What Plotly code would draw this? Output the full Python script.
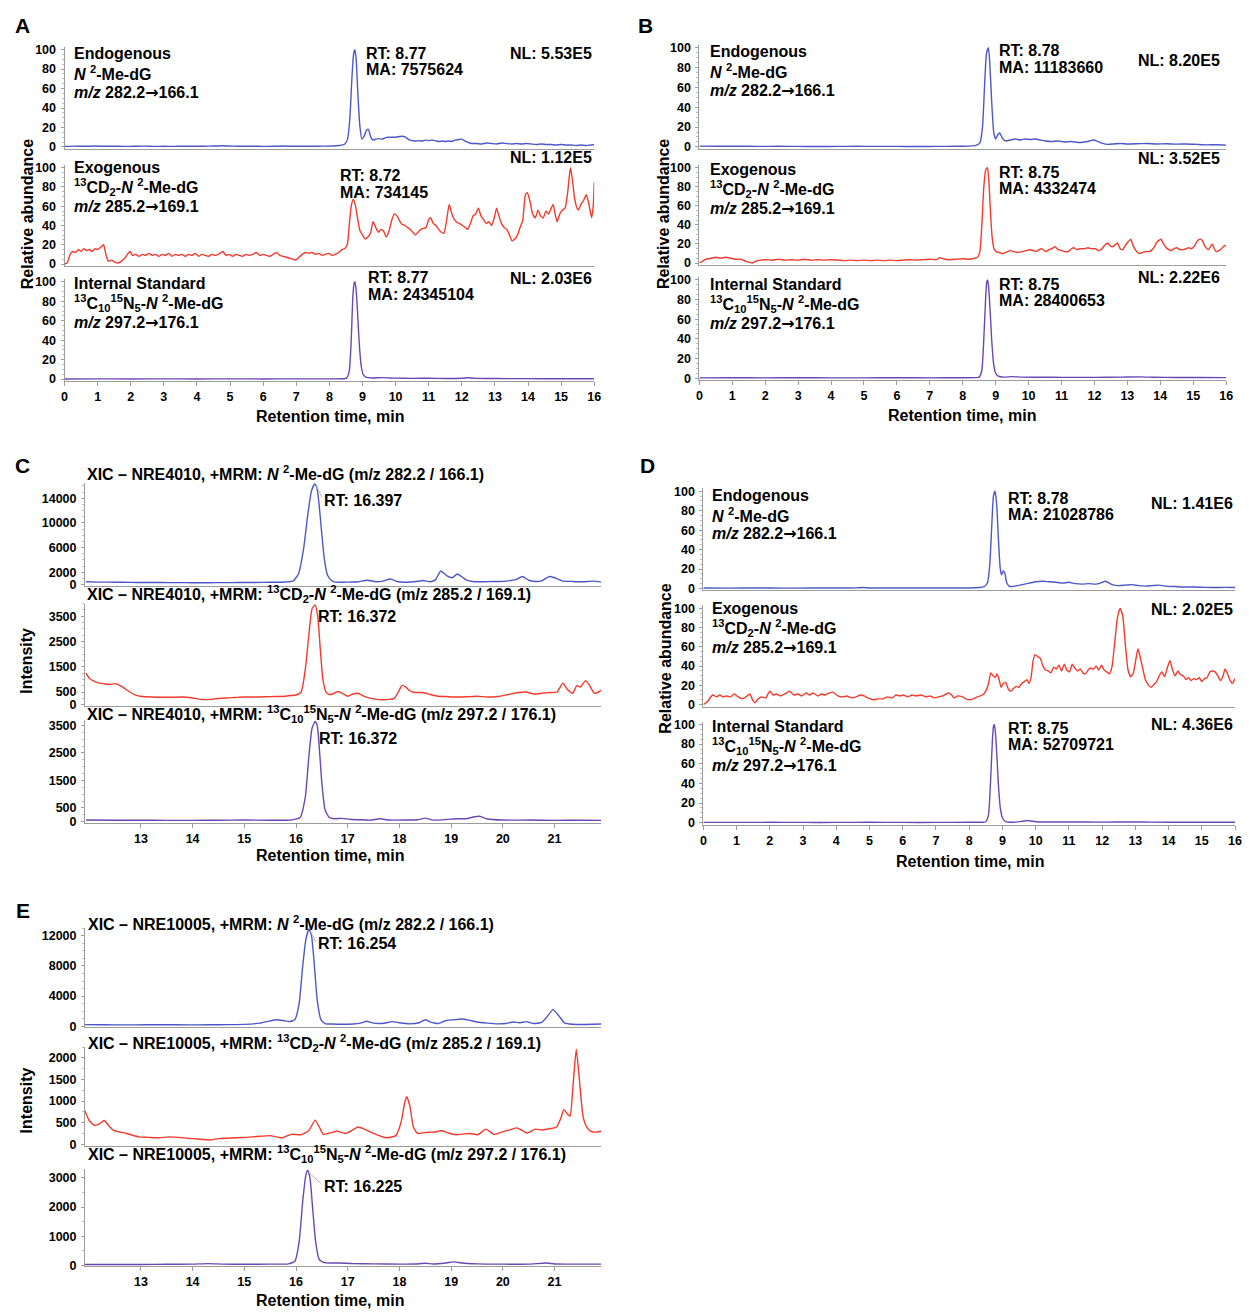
import plotly.graph_objects as go

W, H = 1249, 1313
FONT = "Liberation Sans, Arial, Helvetica, sans-serif"
BLUE = "#4d58c6"
RED = "#f43a2c"
PURPLE = "#6a48b2"
AXIS = "#9c9c9c"
ARROW = "<span style='font-family:DejaVu Sans'>→</span>"

# ---------------- Panel A (relative abundance, % of NL) ----------------
A_endo = [(0, 0.5), (0.3, 0.8), (0.6, 0.6), (0.9, 0.9), (1.2, 0.6), (1.5, 0.7), (1.8, 0.5), (2.1, 0.6), (2.4, 0.8),
          (2.7, 0.5), (3.0, 0.6), (3.3, 0.5), (3.6, 0.7), (3.9, 0.6), (4.2, 0.7), (4.5, 0.9), (4.8, 1.2), (5.1, 0.8),
          (5.4, 0.6), (5.7, 0.7), (6.0, 0.5), (6.3, 0.6), (6.6, 0.9), (6.9, 0.6), (7.2, 0.7), (7.5, 0.6), (7.8, 0.8),
          (8.1, 1.0), (8.3, 1.5), (8.45, 2.5), (8.55, 8), (8.62, 30), (8.68, 70), (8.73, 95), (8.77, 100), (8.81, 90),
          (8.86, 55), (8.92, 22), (8.98, 8), (9.05, 11), (9.12, 17), (9.18, 18), (9.25, 10), (9.32, 7), (9.4, 8),
          (9.5, 8.5), (9.6, 8), (9.7, 9.5), (9.8, 10), (9.9, 10), (10.0, 10), (10.1, 10.5), (10.2, 11), (10.3, 10),
          (10.4, 7.5), (10.5, 6.5), (10.6, 6), (10.7, 6.5), (10.8, 6), (10.9, 7), (11.0, 6.5), (11.1, 7), (11.2, 6.5),
          (11.3, 5.5), (11.4, 6), (11.5, 5.5), (11.6, 6), (11.7, 5.5), (11.8, 7), (11.9, 7.5), (12.0, 8), (12.1, 6),
          (12.2, 4.5), (12.3, 3.5), (12.45, 3.5), (12.6, 3), (12.75, 4), (12.9, 3.5), (13.05, 3), (13.2, 4),
          (13.35, 3.5), (13.5, 3), (13.65, 3.5), (13.8, 3), (13.95, 3.5), (14.1, 3), (14.25, 2.5), (14.4, 3),
          (14.55, 2.5), (14.7, 2.5), (14.85, 2), (15.0, 2.5), (15.15, 2), (15.3, 2), (15.45, 1.5), (15.6, 2),
          (15.75, 1.5), (15.9, 2), (16.0, 2.2)]

A_exo = [(0.00, 0), (0.08, 1), (0.17, 10), (0.25, 13), (0.33, 12), (0.42, 15), (0.50, 13), (0.58, 16), (0.67, 14),
         (0.75, 15), (0.83, 13), (0.92, 16), (1.00, 15), (1.08, 17), (1.18, 20), (1.25, 10), (1.32, 3), (1.42, 4),
         (1.52, 2), (1.62, 1), (1.72, 3), (1.82, 6), (1.92, 11), (1.98, 13), (2.05, 9), (2.15, 10), (2.25, 8),
         (2.35, 10), (2.45, 9), (2.55, 11), (2.65, 9), (2.75, 10), (2.85, 8), (2.95, 10), (3.05, 9), (3.15, 11),
         (3.25, 8), (3.35, 10), (3.45, 9), (3.55, 10), (3.65, 8), (3.75, 10), (3.85, 9), (3.95, 11), (4.05, 8),
         (4.15, 10), (4.25, 9), (4.35, 8), (4.45, 10), (4.55, 9), (4.65, 10), (4.78, 13), (4.88, 9), (4.98, 10),
         (5.08, 8), (5.18, 10), (5.28, 9), (5.38, 8), (5.48, 10), (5.58, 9), (5.68, 10), (5.80, 12), (5.90, 9),
         (6.00, 10), (6.10, 9), (6.20, 8), (6.30, 10), (6.40, 12), (6.50, 9), (6.60, 8), (6.70, 7), (6.80, 6),
         (6.90, 5), (6.98, 4), (7.08, 7), (7.18, 10), (7.28, 12), (7.38, 11), (7.48, 12), (7.58, 10), (7.68, 11),
         (7.78, 9), (7.88, 10), (7.98, 11), (8.08, 9), (8.18, 10), (8.28, 12), (8.38, 15), (8.46, 16), (8.54, 20),
         (8.60, 40), (8.66, 60), (8.72, 67), (8.78, 62), (8.85, 48), (8.92, 35), (9.00, 30), (9.08, 26), (9.16, 28),
         (9.24, 32), (9.32, 44), (9.40, 38), (9.48, 33), (9.56, 36), (9.64, 34), (9.72, 28), (9.80, 34), (9.88, 45),
         (9.96, 52), (10.04, 50), (10.12, 45), (10.20, 41), (10.28, 40), (10.36, 38), (10.44, 36), (10.52, 33),
         (10.60, 30), (10.68, 33), (10.76, 36), (10.84, 37), (10.92, 38), (11.00, 46), (11.06, 48), (11.14, 42),
         (11.22, 40), (11.30, 36), (11.38, 33), (11.46, 32), (11.54, 45), (11.62, 62), (11.70, 52), (11.78, 46),
         (11.86, 43), (11.94, 42), (12.02, 40), (12.10, 38), (12.18, 36), (12.26, 42), (12.34, 50), (12.42, 52),
         (12.50, 58), (12.58, 50), (12.66, 46), (12.74, 42), (12.82, 44), (12.90, 40), (12.98, 48), (13.05, 58),
         (13.12, 50), (13.20, 42), (13.28, 38), (13.36, 36), (13.44, 30), (13.52, 24), (13.60, 26), (13.68, 30),
         (13.76, 38), (13.84, 45), (13.92, 72), (13.98, 74), (14.06, 65), (14.14, 52), (14.22, 48), (14.30, 56),
         (14.38, 50), (14.46, 48), (14.54, 55), (14.62, 52), (14.70, 58), (14.76, 62), (14.82, 52), (14.88, 44),
         (14.96, 52), (15.04, 56), (15.12, 58), (15.20, 75), (15.28, 100), (15.34, 88), (15.40, 70), (15.46, 60),
         (15.52, 56), (15.60, 62), (15.68, 66), (15.76, 72), (15.84, 62), (15.92, 48), (15.97, 60), (16.00, 85)]

A_is = [(0, 0.2), (1, 0.3), (2, 0.2), (3, 0.3), (4, 0.2), (5, 0.3), (6, 0.2), (7, 0.3), (8, 0.3), (8.4, 0.4),
        (8.52, 1), (8.6, 8), (8.66, 40), (8.71, 85), (8.75, 99), (8.77, 100), (8.8, 95), (8.85, 70), (8.9, 38),
        (8.96, 14), (9.02, 5), (9.1, 2), (9.3, 1.2), (9.6, 1.5), (10, 1), (10.5, 0.8), (11, 0.9), (11.5, 0.7),
        (12, 0.9), (12.2, 1.4), (12.4, 0.8), (13, 0.6), (14, 0.5), (15, 0.4), (16, 0.4)]

# ---------------- Panel B ----------------
B_endo = [(0, 0.8), (0.6, 0.6), (1.2, 0.7), (1.8, 0.5), (2.4, 0.6), (3.0, 0.5), (3.6, 0.4), (4.2, 0.5), (4.8, 0.6),
          (5.4, 0.5), (6.0, 0.5), (6.6, 0.4), (7.2, 0.5), (7.8, 0.6), (8.2, 0.8), (8.4, 1.5), (8.52, 4), (8.6, 20),
          (8.66, 60), (8.72, 94), (8.78, 100), (8.82, 85), (8.88, 45), (8.94, 15), (9.0, 8), (9.06, 12), (9.12, 14),
          (9.2, 9), (9.3, 6), (9.45, 7), (9.6, 8), (9.75, 7), (9.9, 8), (10.05, 7.5), (10.2, 8), (10.35, 7),
          (10.5, 6), (10.7, 5.5), (10.9, 6), (11.1, 5), (11.3, 5.5), (11.5, 4.5), (11.7, 5), (11.85, 6), (11.97, 7),
          (12.1, 5.5), (12.25, 3.5), (12.4, 2.5), (12.6, 3), (12.8, 3.5), (13.0, 3), (13.3, 3.2), (13.6, 3.5),
          (13.9, 3), (14.2, 3.2), (14.5, 2.8), (14.8, 3), (15.1, 2.5), (15.4, 2), (15.7, 2.2), (16.0, 1.8)]

B_exo = [(0, 0), (0.1, 2), (0.2, 4), (0.35, 5), (0.5, 6), (0.65, 5), (0.8, 6), (0.95, 5), (1.1, 4), (1.25, 4),
         (1.4, 2), (1.5, 1), (1.6, 0), (1.72, 2), (1.85, 3), (2.0, 3.5), (2.2, 3), (2.4, 4), (2.6, 3), (2.8, 3.5),
         (3.0, 3), (3.2, 4), (3.4, 3), (3.6, 3.5), (3.8, 3), (4.0, 3.5), (4.2, 3), (4.4, 2.5), (4.6, 3), (4.8, 2.5),
         (5.0, 3), (5.2, 2.5), (5.4, 3), (5.6, 2.5), (5.8, 3), (6.0, 2.5), (6.2, 3), (6.4, 3.5), (6.6, 3),
         (6.8, 3.5), (7.0, 4), (7.2, 3.5), (7.3, 5.5), (7.45, 4), (7.6, 3.5), (7.8, 4), (8.0, 4.5), (8.2, 4),
         (8.35, 5), (8.45, 6), (8.52, 12), (8.58, 40), (8.64, 80), (8.7, 98), (8.75, 100), (8.79, 88), (8.84, 55),
         (8.89, 28), (8.95, 15), (9.02, 12), (9.1, 11), (9.2, 10), (9.3, 11), (9.44, 13), (9.56, 12), (9.68, 11),
         (9.8, 12), (9.92, 13), (10.04, 14), (10.14, 13), (10.22, 12), (10.32, 14), (10.4, 15), (10.52, 12),
         (10.62, 14), (10.7, 15), (10.8, 17), (10.9, 14), (11.0, 13), (11.1, 12), (11.2, 12), (11.3, 15),
         (11.37, 16), (11.47, 14), (11.55, 15), (11.68, 15), (11.8, 16), (11.92, 15), (12.03, 15), (12.12, 13),
         (12.2, 14), (12.3, 18), (12.4, 21), (12.48, 18), (12.54, 17), (12.62, 19), (12.7, 21), (12.78, 15),
         (12.86, 14), (12.93, 18), (13.02, 22), (13.1, 25), (13.18, 18), (13.26, 13), (13.36, 10), (13.46, 11),
         (13.54, 12), (13.64, 12), (13.72, 13), (13.82, 17), (13.9, 22), (14.02, 25), (14.1, 20), (14.18, 16),
         (14.26, 14), (14.32, 13), (14.42, 15), (14.5, 16), (14.6, 14), (14.68, 14), (14.78, 15), (14.86, 16),
         (14.95, 15), (15.04, 18), (15.12, 23), (15.19, 25), (15.27, 24), (15.35, 18), (15.46, 14), (15.52, 17),
         (15.58, 20), (15.64, 15), (15.7, 12), (15.78, 13), (15.86, 15), (15.94, 18), (16.0, 18)]

B_is = [(0, 0.3), (1, 0.4), (2, 0.3), (3, 0.4), (4, 0.3), (5, 0.3), (6, 0.4), (7, 0.3), (8, 0.4), (8.4, 0.5),
        (8.5, 1), (8.58, 8), (8.64, 40), (8.7, 85), (8.73, 98), (8.75, 100), (8.78, 95), (8.83, 70), (8.88, 38),
        (8.94, 14), (9.0, 5), (9.08, 2), (9.25, 1), (9.5, 1.5), (9.8, 1), (10.5, 0.9), (11, 0.8), (12, 0.8),
        (12.8, 1), (13.4, 1.3), (13.8, 0.9), (14.5, 0.7), (15.2, 0.6), (16, 0.5)]

# ---------------- Panel D ----------------
D_endo = [(0, 0.5), (0.8, 0.4), (1.6, 0.5), (2.4, 0.4), (3.2, 0.5), (4.0, 0.5), (4.6, 0.7), (4.8, 1), (5.0, 0.6),
          (5.6, 0.5), (6.4, 0.5), (7.2, 0.5), (8.0, 0.6), (8.3, 1), (8.45, 2), (8.55, 6), (8.62, 25), (8.68, 65),
          (8.73, 95), (8.78, 100), (8.83, 85), (8.88, 50), (8.93, 22), (8.97, 14), (9.02, 18), (9.07, 16),
          (9.13, 6), (9.2, 2.5), (9.3, 2), (9.45, 3), (9.6, 4), (9.8, 5.5), (10.0, 7), (10.2, 7.5), (10.4, 7),
          (10.6, 6.5), (10.8, 5.5), (11.0, 6.5), (11.2, 5), (11.4, 4.5), (11.6, 5), (11.8, 4.5), (11.95, 5.5),
          (12.1, 7.5), (12.3, 4), (12.5, 3), (12.7, 3.5), (12.9, 4), (13.1, 3), (13.3, 2.5), (13.5, 3), (13.7, 3.5),
          (13.9, 2.5), (14.2, 2), (14.5, 1.5), (14.8, 1.5), (15.1, 1.2), (15.4, 1), (15.7, 1.2), (16.0, 1)]

D_exo = [(0.00, 0), (0.12, 3), (0.28, 10), (0.40, 8), (0.50, 10), (0.58, 8), (0.70, 9), (0.82, 8), (0.93, 11),
         (1.05, 8), (1.17, 6), (1.28, 8), (1.40, 11), (1.48, 5), (1.55, 2), (1.65, 6), (1.76, 8), (1.88, 7),
         (2.00, 14), (2.10, 10), (2.20, 11), (2.32, 9), (2.45, 11), (2.60, 14), (2.72, 10), (2.85, 11), (2.95, 9),
         (3.10, 12), (3.20, 10), (3.30, 12), (3.45, 9), (3.55, 11), (3.65, 10), (3.78, 12), (3.90, 13), (4.05, 9),
         (4.20, 8), (4.32, 9), (4.45, 7), (4.60, 8), (4.72, 10), (4.84, 9), (4.95, 7), (5.10, 5), (5.25, 6),
         (5.40, 6), (5.55, 8), (5.68, 7), (5.80, 10), (5.92, 9), (6.02, 10), (6.15, 8), (6.28, 10), (6.40, 9),
         (6.55, 10), (6.70, 8), (6.82, 9), (6.95, 7), (7.08, 8), (7.20, 9), (7.30, 11), (7.38, 12), (7.47, 10),
         (7.55, 7), (7.65, 9), (7.80, 8), (7.90, 6), (8.00, 5), (8.12, 6), (8.25, 8), (8.40, 10), (8.50, 14),
         (8.58, 22), (8.65, 33), (8.72, 30), (8.78, 28), (8.84, 32), (8.90, 26), (8.96, 18), (9.02, 22), (9.10, 23),
         (9.18, 16), (9.26, 14), (9.34, 17), (9.42, 19), (9.50, 18), (9.58, 22), (9.66, 24), (9.74, 26), (9.80, 22),
         (9.86, 28), (9.92, 45), (9.98, 52), (10.06, 50), (10.14, 48), (10.22, 40), (10.30, 36), (10.38, 35),
         (10.46, 33), (10.54, 39), (10.62, 37), (10.70, 41), (10.78, 35), (10.86, 42), (10.94, 36), (11.02, 34),
         (11.10, 42), (11.18, 38), (11.26, 35), (11.34, 37), (11.42, 33), (11.50, 32), (11.58, 36), (11.66, 38),
         (11.74, 37), (11.82, 40), (11.90, 36), (11.98, 41), (12.06, 36), (12.14, 34), (12.22, 32), (12.30, 40),
         (12.38, 65), (12.46, 90), (12.54, 100), (12.62, 92), (12.70, 62), (12.78, 36), (12.86, 29), (12.94, 33),
         (13.02, 48), (13.08, 58), (13.14, 50), (13.22, 38), (13.30, 26), (13.40, 20), (13.48, 18), (13.56, 21),
         (13.64, 24), (13.72, 30), (13.80, 34), (13.88, 29), (13.96, 38), (14.04, 46), (14.12, 36), (14.20, 30),
         (14.28, 35), (14.36, 31), (14.44, 30), (14.52, 26), (14.60, 28), (14.68, 25), (14.76, 27), (14.84, 26),
         (14.92, 28), (15.00, 24), (15.08, 27), (15.16, 28), (15.24, 34), (15.32, 35), (15.40, 34), (15.48, 30),
         (15.56, 25), (15.64, 30), (15.70, 37), (15.76, 33), (15.84, 26), (15.92, 22), (16.00, 27)]

D_is = [(0, 0.3), (1, 0.3), (2, 0.4), (3, 0.3), (4, 0.3), (5, 0.4), (6, 0.3), (7, 0.3), (8, 0.4), (8.4, 0.5),
        (8.5, 1), (8.58, 8), (8.64, 40), (8.7, 85), (8.73, 98), (8.75, 100), (8.78, 95), (8.83, 70), (8.88, 38),
        (8.94, 14), (9.0, 5), (9.08, 1.5), (9.2, 0.5), (9.4, 0.6), (9.6, 1.5), (9.75, 2.2), (9.9, 1.5), (10.1, 0.8),
        (10.5, 0.7), (11, 0.8), (12, 0.6), (12.9, 0.9), (13.5, 0.6), (14.5, 0.5), (15.5, 0.5), (16, 0.4)]

# ---------------- Panel C (NRE4010, intensity in cps) ----------------
C_endo = [(11.94, 450), (12.2, 400), (12.5, 380), (12.8, 350), (13.1, 330), (13.4, 320), (13.7, 310), (14.0, 300),
          (14.3, 300), (14.6, 310), (14.9, 320), (15.2, 340), (15.5, 360), (15.8, 420), (15.95, 600), (16.05, 1800),
          (16.15, 6000), (16.23, 11500), (16.3, 15200), (16.36, 16300), (16.4, 15800), (16.44, 13500),
          (16.49, 9000), (16.55, 4000), (16.61, 1500), (16.68, 700), (16.76, 400), (16.9, 380), (17.05, 400),
          (17.2, 450), (17.38, 700), (17.55, 450), (17.7, 600), (17.82, 900), (17.95, 500), (18.1, 380), (18.3, 450),
          (18.46, 650), (18.6, 450), (18.7, 800), (18.8, 2200), (18.92, 1400), (19.02, 1100), (19.12, 1700),
          (19.2, 1300), (19.3, 700), (19.42, 500), (19.6, 450), (19.8, 500), (19.95, 500), (20.1, 600), (20.25, 800),
          (20.38, 1300), (20.5, 700), (20.62, 500), (20.75, 600), (20.9, 1300), (21.0, 1100), (21.15, 600),
          (21.35, 500), (21.55, 450), (21.75, 550), (21.91, 400)]

C_exo = [(11.94, 1250), (12.0, 1050), (12.1, 920), (12.2, 850), (12.3, 820), (12.4, 800), (12.5, 830), (12.6, 750),
         (12.7, 620), (12.8, 480), (12.9, 380), (13.0, 330), (13.2, 300), (13.4, 290), (13.6, 290), (13.8, 300),
         (14.0, 260), (14.2, 200), (14.4, 220), (14.6, 260), (14.8, 280), (15.0, 300), (15.2, 300), (15.4, 310),
         (15.6, 320), (15.8, 330), (15.9, 360), (16.0, 380), (16.1, 500), (16.18, 1400), (16.25, 2800),
         (16.31, 3800), (16.37, 3950), (16.42, 3500), (16.47, 2200), (16.52, 1000), (16.58, 500), (16.64, 400),
         (16.72, 430), (16.8, 520), (16.9, 450), (17.0, 330), (17.1, 420), (17.2, 450), (17.3, 350), (17.45, 250),
         (17.6, 200), (17.75, 200), (17.9, 250), (17.98, 500), (18.05, 760), (18.12, 700), (18.2, 550), (18.3, 480),
         (18.45, 480), (18.6, 400), (18.75, 330), (18.9, 320), (19.1, 300), (19.3, 310), (19.5, 330), (19.7, 300),
         (19.9, 320), (20.1, 400), (20.3, 480), (20.45, 500), (20.6, 420), (20.75, 450), (20.9, 480), (21.05, 500),
         (21.16, 850), (21.25, 600), (21.35, 450), (21.43, 750), (21.5, 700), (21.6, 950), (21.68, 750),
         (21.77, 450), (21.85, 500), (21.91, 580)]

C_is = [(11.94, 60), (12.5, 55), (13.0, 55), (13.5, 50), (14.0, 50), (14.5, 55), (15.0, 60), (15.5, 55), (15.9, 60),
        (16.08, 150), (16.18, 900), (16.25, 2400), (16.31, 3400), (16.37, 3650), (16.41, 3500), (16.45, 2700),
        (16.5, 1400), (16.56, 450), (16.64, 160), (16.74, 110), (16.89, 120), (17.04, 90), (17.24, 70), (17.45, 60),
        (17.62, 110), (17.8, 60), (18.1, 60), (18.35, 70), (18.5, 130), (18.65, 60), (18.9, 80), (19.1, 110),
        (19.3, 110), (19.45, 180), (19.55, 200), (19.7, 100), (20.0, 60), (20.5, 60), (21.0, 50), (21.5, 55),
        (21.91, 50)]

# ---------------- Panel E (NRE10005, intensity in cps) ----------------
E_endo = [(11.9, 200), (12.3, 180), (12.7, 170), (13.1, 180), (13.5, 190), (13.9, 170), (14.3, 180), (14.7, 200),
          (15.0, 230), (15.3, 400), (15.5, 700), (15.62, 850), (15.75, 750), (15.88, 600), (15.98, 900),
          (16.06, 3000), (16.13, 8000), (16.19, 11500), (16.25, 12900), (16.3, 12000), (16.35, 8500), (16.41, 3500),
          (16.48, 900), (16.56, 350), (16.7, 280), (16.9, 250), (17.1, 280), (17.25, 400), (17.37, 650), (17.5, 400),
          (17.7, 380), (17.86, 600), (18.0, 450), (18.2, 300), (18.38, 450), (18.5, 850), (18.62, 500), (18.75, 350),
          (18.9, 750), (19.05, 850), (19.2, 950), (19.35, 800), (19.5, 550), (19.7, 400), (19.9, 300), (20.05, 350),
          (20.2, 550), (20.32, 450), (20.45, 600), (20.6, 350), (20.75, 500), (20.85, 1200), (20.97, 2200),
          (21.08, 1400), (21.2, 400), (21.35, 250), (21.55, 220), (21.75, 250), (21.9, 280)]

E_exo = [(11.9, 820), (12.0, 550), (12.1, 440), (12.2, 470), (12.29, 550), (12.4, 400), (12.47, 320), (12.6, 280),
         (12.73, 250), (12.96, 170), (13.15, 160), (13.35, 150), (13.55, 170), (13.73, 160), (13.9, 140),
         (14.1, 120), (14.35, 100), (14.5, 130), (14.66, 140), (14.85, 150), (15.04, 160), (15.25, 180), (15.5, 200),
         (15.73, 150), (15.91, 230), (16.1, 220), (16.25, 320), (16.37, 560), (16.45, 400), (16.53, 230),
         (16.65, 260), (16.8, 300), (16.95, 250), (17.08, 320), (17.2, 400), (17.32, 350), (17.5, 250), (17.65, 180),
         (17.77, 150), (17.93, 200), (18.03, 500), (18.1, 950), (18.14, 1100), (18.2, 900), (18.27, 400),
         (18.35, 250), (18.48, 270), (18.6, 280), (18.72, 290), (18.82, 320), (18.95, 260), (19.1, 220),
         (19.25, 240), (19.37, 250), (19.52, 220), (19.67, 350), (19.83, 230), (20.02, 300), (20.15, 340),
         (20.27, 380), (20.36, 330), (20.47, 260), (20.63, 350), (20.75, 330), (20.86, 350), (20.96, 370),
         (21.04, 400), (21.12, 600), (21.18, 800), (21.25, 700), (21.3, 650), (21.36, 1400), (21.42, 2200),
         (21.48, 1500), (21.55, 650), (21.62, 400), (21.7, 300), (21.8, 280), (21.9, 300)]

E_is = [(11.9, 30), (12.5, 30), (13.0, 30), (13.5, 35), (14.0, 40), (14.3, 60), (14.6, 40), (15.0, 35), (15.5, 40),
        (15.85, 50), (15.98, 150), (16.06, 800), (16.13, 2200), (16.19, 3100), (16.225, 3270), (16.27, 3000),
        (16.32, 2000), (16.38, 800), (16.45, 200), (16.55, 90), (16.7, 80), (16.85, 80), (17.1, 60), (17.5, 50),
        (18.0, 40), (18.3, 45), (18.5, 70), (18.65, 45), (18.9, 80), (19.05, 120), (19.2, 80), (19.5, 50),
        (20.0, 40), (20.5, 40), (20.85, 80), (21.0, 45), (21.5, 40), (21.9, 40)]

# tick values
REL_TICKS = [0, 20, 40, 60, 80, 100]
MIN_TICKS_16 = list(range(0, 17))
MIN_TICKS_XIC = list(range(13, 22))
C1_TICKS = [0, 2000, 6000, 10000, 14000]
C23_TICKS = [0, 500, 1500, 2500, 3500]
E1_TICKS = [0, 4000, 8000, 12000]
E2_TICKS = [0, 500, 1000, 1500, 2000]
E3_TICKS = [0, 1000, 2000, 3000]


def fx(p):
    return p / W


def fy(p):
    return 1 - p / H


def lin_domain(pa, va, pb, vb, lo, hi):
    """pixel positions of the range ends from two anchor (pixel, value) pairs"""
    s = (pb - pa) / (vb - va)
    return pa + (lo - va) * s, pa + (hi - va) * s


def xdom(pa, va, pb, vb, lo, hi):
    p0, p1 = lin_domain(pa, va, pb, vb, lo, hi)
    return [fx(p0), fx(p1)]


def ydom(pa, va, pb, vb, lo, hi):
    p0, p1 = lin_domain(pa, va, pb, vb, lo, hi)
    return [fy(p0), fy(p1)]


# layout of the 15 chromatograms:
# (series, colour, x-anchors, x-range, y-anchors, y-range, y ticks, minor dtick, bottom?, x ticks)
REL = (-2, 103)
XA = (62, 0, 596, 16)
XB = (702, 0, 1233, 16)
XD = (706, 0, 1242, 16)
XCE = (139, 13, 556, 21)
XR16 = (0, 16)
XRC = (11.92, 21.9)

subplots = [
    (A_endo, BLUE, XA, XR16, (144, 0, 46, 100), REL, REL_TICKS, 5, False, MIN_TICKS_16),
    (A_exo, RED, XA, XR16, (262, 0, 165, 100), REL, REL_TICKS, 5, False, MIN_TICKS_16),
    (A_is, PURPLE, XA, XR16, (378, 0, 280, 100), REL, REL_TICKS, 5, True, MIN_TICKS_16),
    (B_endo, BLUE, XB, XR16, (144, 0, 44, 100), REL, REL_TICKS, 5, False, MIN_TICKS_16),
    (B_exo, RED, XB, XR16, (261, 0, 165, 100), REL, REL_TICKS, 5, False, MIN_TICKS_16),
    (B_is, PURPLE, XB, XR16, (377, 0, 278, 100), REL, REL_TICKS, 5, True, MIN_TICKS_16),
    (D_endo, BLUE, XD, XR16, (589, 0, 491, 100), REL, REL_TICKS, 5, False, MIN_TICKS_16),
    (D_exo, RED, XD, XR16, (706, 0, 609, 100), REL, REL_TICKS, 5, False, MIN_TICKS_16),
    (D_is, PURPLE, XD, XR16, (825, 0, 726, 100), REL, REL_TICKS, 5, True, MIN_TICKS_16),
    (C_endo, BLUE, XCE, XRC, (585, 0, 498, 14000), (-250, 16500), C1_TICKS, 1000, False, MIN_TICKS_XIC),
    (C_exo, RED, XCE, XRC, (706, 0, 617, 3500), (-60, 4000), C23_TICKS, 250, False, MIN_TICKS_XIC),
    (C_is, PURPLE, XCE, XRC, (824, 0, 727, 3500), (-60, 3700), C23_TICKS, 250, True, MIN_TICKS_XIC),
    (E_endo, BLUE, XCE, XRC, (1030, 0, 939, 12000), (-150, 13000), E1_TICKS, 1000, False, MIN_TICKS_XIC),
    (E_exo, RED, XCE, XRC, (1149, 0, 1062, 2000), (-30, 2250), E2_TICKS, 250, False, MIN_TICKS_XIC),
    (E_is, PURPLE, XCE, XRC, (1271, 0, 1183, 3000), (-40, 3300), E3_TICKS, 500, True, MIN_TICKS_XIC),
]

fig = go.Figure()
layout_axes = {}
tickfont = dict(family=FONT, size=12.5, color="black", weight="bold")

for i, (series, colour, xa, xr, ya, yr, yt, ydt, bottom, xt) in enumerate(subplots, start=1):
    t = [p[0] for p in series]
    v = [p[1] for p in series]
    sx = "" if i == 1 else str(i)
    fig.add_trace(go.Scatter(
        x=t, y=v, mode="lines", line=dict(color=colour, width=1.4, shape="spline", smoothing=0.5),
        xaxis="x" + sx, yaxis="y" + sx, hoverinfo="skip", showlegend=False))
    layout_axes["xaxis" + sx] = dict(
        domain=xdom(xa[0], xa[1], xa[2], xa[3], xr[0], xr[1]), range=list(xr), anchor="y" + sx,
        showline=True, linecolor=AXIS, linewidth=1, showgrid=False, zeroline=False,
        ticks="outside" if bottom else "", ticklen=4, tickcolor=AXIS,
        tickmode="array", tickvals=xt, ticktext=[str(k) for k in xt],
        showticklabels=bottom, tickfont=tickfont, fixedrange=True)
    layout_axes["yaxis" + sx] = dict(
        domain=ydom(ya[0], ya[1], ya[2], ya[3], yr[0], yr[1]), range=list(yr), anchor="x" + sx,
        showline=True, linecolor=AXIS, linewidth=1, showgrid=False, zeroline=False,
        ticks="outside", ticklen=3, tickcolor=AXIS, tickmode="array", tickvals=yt,
        ticktext=[str(k) for k in yt], tickfont=tickfont, ticklabelstandoff=2,
        minor=dict(ticks="outside", ticklen=2, tickcolor="#bdbdbd", dtick=ydt, tick0=0, showgrid=False),
        fixedrange=True)

# thin grey leaders from the main peak apex to its RT label (XIC panels)
LEADERS = [("10", (16.40, 15900), (16.50, 14200)),
           ("13", (16.28, 12600), (16.38, 11200)),
           ("15", (16.25, 3180), (16.48, 2820))]
shapes = [dict(type="line", xref="x" + k, yref="y" + k, x0=a[0], y0=a[1], x1=b[0], y1=b[1],
               line=dict(color="#b5b5b5", width=1)) for k, a, b in LEADERS]

annotations = []


def ann(text, x, y, xanchor="left", size=16, angle=0):
    annotations.append(dict(xref="paper", yref="paper", x=fx(x), y=fy(y), text=text, showarrow=False,
                            xanchor=xanchor, yanchor="middle", textangle=angle,
                            font=dict(family=FONT, size=size, color="black")))


ENDO = ["<b>Endogenous</b>", "<b><i>N</i> <sup>2</sup>-Me-dG</b>", "<b><i>m/z</i> 282.2" + ARROW + "166.1</b>"]
EXO = ["<b>Exogenous</b>", "<b><sup>13</sup>CD<sub>2</sub>-<i>N</i> <sup>2</sup>-Me-dG</b>",
       "<b><i>m/z</i> 285.2" + ARROW + "169.1</b>"]
ISTD = ["<b>Internal Standard</b>",
        "<b><sup>13</sup>C<sub>10</sub><sup>15</sup>N<sub>5</sub>-<i>N</i> <sup>2</sup>-Me-dG</b>",
        "<b><i>m/z</i> 297.2" + ARROW + "176.1</b>"]


def block(lines, x, y0, step=19.5):
    for k, s in enumerate(lines):
        ann(s, x, y0 + k * step)


# panel letters
for letter, x, y in [("A", 20, 22), ("B", 648, 22), ("C", 20, 465), ("D", 650, 465), ("E", 20, 913)]:
    ann("<b>%s</b>" % letter, x, y, xanchor="center", size=21)

# panel A
block(ENDO, 70, 50)
ann("<b>RT: 8.77</b>", 364, 50)
ann("<b>MA: 7575624</b>", 364, 66)
ann("<b>NL: 5.53E5</b>", 596, 50, xanchor="right")
block(EXO, 70, 165)
ann("<b>RT: 8.72</b>", 338, 173)
ann("<b>MA: 734145</b>", 338, 190)
ann("<b>NL: 1.12E5</b>", 596, 155, xanchor="right")
block(ISTD, 70, 282)
ann("<b>RT: 8.77</b>", 366, 276)
ann("<b>MA: 24345104</b>", 366, 293)
ann("<b>NL: 2.03E6</b>", 596, 277, xanchor="right")
ann("<b>Retention time, min</b>", 330, 416, xanchor="center")
ann("<b>Relative abundance</b>", 25, 212, xanchor="center", angle=-90)

# panel B
block(ENDO, 711, 48)
ann("<b>RT: 8.78</b>", 1002, 47)
ann("<b>MA: 11183660</b>", 1002, 64)
ann("<b>NL: 8.20E5</b>", 1229, 57, xanchor="right")
block(EXO, 711, 167)
ann("<b>RT: 8.75</b>", 1002, 170)
ann("<b>MA: 4332474</b>", 1002, 186)
ann("<b>NL: 3.52E5</b>", 1229, 156, xanchor="right")
block(ISTD, 711, 283)
ann("<b>RT: 8.75</b>", 1002, 283)
ann("<b>MA: 28400653</b>", 1002, 299)
ann("<b>NL: 2.22E6</b>", 1229, 276, xanchor="right")
ann("<b>Retention time, min</b>", 967, 415, xanchor="center")
ann("<b>Relative abundance</b>", 666, 212, xanchor="center", angle=-90)

# panel D
block(ENDO, 713, 495)
ann("<b>RT: 8.78</b>", 1011, 498)
ann("<b>MA: 21028786</b>", 1011, 514)
ann("<b>NL: 1.41E6</b>", 1242, 503, xanchor="right")
block(EXO, 713, 609)
ann("<b>NL: 2.02E5</b>", 1242, 610, xanchor="right")
block(ISTD, 713, 728)
ann("<b>RT: 8.75</b>", 1011, 730)
ann("<b>MA: 52709721</b>", 1011, 746)
ann("<b>NL: 4.36E6</b>", 1242, 726, xanchor="right")
ann("<b>Retention time, min</b>", 975, 864, xanchor="center")
ann("<b>Relative abundance</b>", 668, 660, xanchor="center", angle=-90)

# panel C
ann("<b>XIC – NRE4010, +MRM: <i>N</i> <sup>2</sup>-Me-dG (m/z 282.2 / 166.1)</b>", 83, 473)
ann("<b>RT: 16.397</b>", 322, 500)
ann("<b>XIC – NRE4010, +MRM: <sup>13</sup>CD<sub>2</sub>-<i>N</i> <sup>2</sup>-Me-dG (m/z 285.2 / 169.1)</b>", 83, 595)
ann("<b>RT: 16.372</b>", 316, 617)
ann("<b>XIC – NRE4010, +MRM: <sup>13</sup>C<sub>10</sub><sup>15</sup>N<sub>5</sub>-<i>N</i> <sup>2</sup>-Me-dG"
    " (m/z 297.2 / 176.1)</b>", 83, 715)
ann("<b>RT: 16.372</b>", 317, 740)
ann("<b>Retention time, min</b>", 330, 858, xanchor="center")
ann("<b>Intensity</b>", 24, 662, xanchor="center", angle=-90)

# panel E
ann("<b>XIC – NRE10005, +MRM: <i>N</i> <sup>2</sup>-Me-dG (m/z 282.2 / 166.1)</b>", 84, 926)
ann("<b>RT: 16.254</b>", 316, 947)
ann("<b>XIC – NRE10005, +MRM: <sup>13</sup>CD<sub>2</sub>-<i>N</i> <sup>2</sup>-Me-dG (m/z 285.2 / 169.1)</b>", 84, 1047)
ann("<b>XIC – NRE10005, +MRM: <sup>13</sup>C<sub>10</sub><sup>15</sup>N<sub>5</sub>-<i>N</i> <sup>2</sup>-Me-dG"
    " (m/z 297.2 / 176.1)</b>", 84, 1159)
ann("<b>RT: 16.225</b>", 322, 1192)
ann("<b>Retention time, min</b>", 330, 1306, xanchor="center")
ann("<b>Intensity</b>", 24, 1105, xanchor="center", angle=-90)

fig.update_layout(
    width=W, height=H, margin=dict(l=0, r=0, t=0, b=0),
    paper_bgcolor="white", plot_bgcolor="white",
    font=dict(family=FONT, color="black"),
    annotations=annotations, shapes=shapes, **layout_axes)

fig.write_html("out.html")
